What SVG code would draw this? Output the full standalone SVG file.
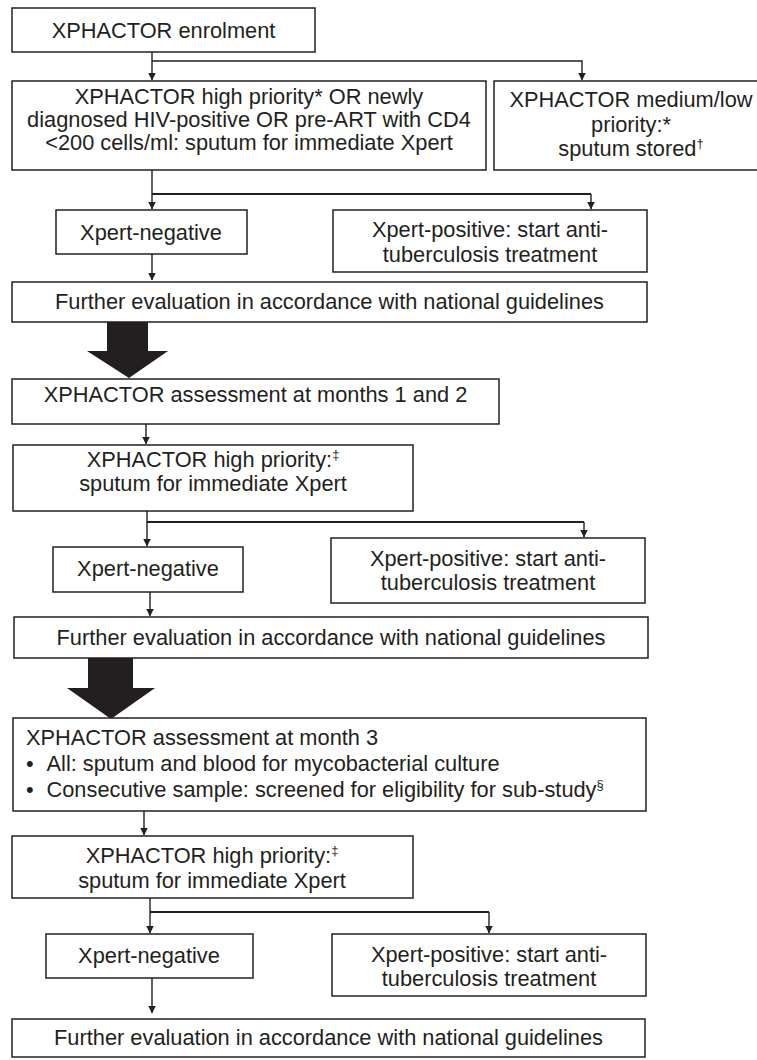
<svg xmlns="http://www.w3.org/2000/svg" width="757" height="1060" viewBox="0 0 757 1060">
<style>
.box{fill:#fff;stroke:#231f20;stroke-width:1.5}
.t{font-family:"Liberation Sans",Arial,sans-serif;font-size:21.8px;fill:#231f20}
.c{text-anchor:middle}
.sup{font-size:13px;fill:#231f20}
.ln{fill:none;stroke:#231f20;stroke-width:1.4}
.hb{fill:none;stroke:#231f20;stroke-width:2}
.big{fill:#231f20}
</style>
<defs>
<marker id="ah" markerWidth="8" markerHeight="9" refX="7.5" refY="4.5" orient="auto" markerUnits="userSpaceOnUse">
<path d="M0,0.5 L8,4.5 L0,8.5 Z" fill="#231f20"/>
</marker>
</defs>
<rect width="757" height="1060" fill="#fff"/>

<g id="connectors">
<path class="ln" d="M152,52 V80" marker-end="url(#ah)"/>
<path class="ln" d="M152,61 H582 V80" marker-end="url(#ah)"/>
<path class="ln" d="M152,170 V209" marker-end="url(#ah)"/>
<path class="hb" d="M152,194 H591"/>
<path class="ln" d="M591,194 V209" marker-end="url(#ah)"/>
<path class="ln" d="M152,254 V280" marker-end="url(#ah)"/>
<path class="ln" d="M146,424 V444" marker-end="url(#ah)"/>
<path class="ln" d="M147,511 V546" marker-end="url(#ah)"/>
<path class="hb" d="M147,522 H584"/>
<path class="ln" d="M584,522 V537" marker-end="url(#ah)"/>
<path class="ln" d="M150,592 V616" marker-end="url(#ah)"/>
<path class="ln" d="M144,811 V835" marker-end="url(#ah)"/>
<path class="ln" d="M150,898 V933" marker-end="url(#ah)"/>
<path class="hb" d="M150,912 H489"/>
<path class="ln" d="M489,912 V933" marker-end="url(#ah)"/>
<path class="ln" d="M152,978 V1013" marker-end="url(#ah)"/>
<path id="bigarrow1" class="big" d="M107,321 H148 V351 H168 L129,378 L87,351 H107 Z"/>
<path id="bigarrow2" class="big" d="M88,657 H133 V688 H155 L111,719 L67,688 H88 Z"/>
</g>

<g id="n-enrol">
<rect class="box" x="12" y="8" width="303" height="44"/>
<text class="t c" x="163.5" y="37.5">XPHACTOR enrolment</text>
</g>

<g id="n-high1">
<rect class="box" x="12" y="81" width="474" height="89"/>
<text class="t c" x="249" y="104">XPHACTOR high priority* OR newly</text>
<text class="t c" x="249" y="127">diagnosed HIV-positive OR pre-ART with CD4</text>
<text class="t c" x="249" y="150">&lt;200 cells/ml: sputum for immediate Xpert</text>
</g>

<g id="n-medlow">
<rect class="box" x="494" y="81" width="280" height="89"/>
<text class="t c" x="631" y="107">XPHACTOR medium/low</text>
<text class="t c" x="631" y="131.5">priority:*</text>
<text class="t c" x="631" y="156">sputum stored<tspan class="sup" dy="-8">†</tspan></text>
</g>

<g id="n-neg1">
<rect class="box" x="56" y="210" width="191" height="44"/>
<text class="t c" x="151" y="239.5">Xpert-negative</text>
</g>

<g id="n-pos1">
<rect class="box" x="333" y="210" width="314" height="62"/>
<text class="t c" x="490" y="237">Xpert-positive: start anti-</text>
<text class="t c" x="490" y="262">tuberculosis treatment</text>
</g>

<g id="n-eval1">
<rect class="box" x="12" y="282" width="635" height="40"/>
<text class="t c" x="329.5" y="308.5">Further evaluation in accordance with national guidelines</text>
</g>

<g id="n-assess12">
<rect class="box" x="12" y="379" width="487" height="45"/>
<text class="t c" x="255.5" y="402">XPHACTOR assessment at months 1 and 2</text>
</g>

<g id="n-high2">
<rect class="box" x="13" y="445" width="400" height="66"/>
<text class="t c" x="213" y="467">XPHACTOR high priority:<tspan class="sup" dy="-8">‡</tspan></text>
<text class="t c" x="213" y="491">sputum for immediate Xpert</text>
</g>

<g id="n-neg2">
<rect class="box" x="53" y="547" width="190" height="45"/>
<text class="t c" x="148" y="576">Xpert-negative</text>
</g>

<g id="n-pos2">
<rect class="box" x="331" y="538" width="314" height="65"/>
<text class="t c" x="488" y="566">Xpert-positive: start anti-</text>
<text class="t c" x="488" y="590">tuberculosis treatment</text>
</g>

<g id="n-eval2">
<rect class="box" x="14" y="617" width="634" height="41"/>
<text class="t c" x="331" y="645">Further evaluation in accordance with national guidelines</text>
</g>

<g id="n-assess3">
<rect class="box" x="13" y="718" width="633" height="93"/>
<text class="t" x="26" y="745">XPHACTOR assessment at month 3</text>
<text class="t" x="26" y="771">•<tspan x="46.5">All: sputum and blood for mycobacterial culture</tspan></text>
<text class="t" x="26" y="797">•<tspan x="46.5">Consecutive sample: screened for eligibility for sub-study</tspan><tspan class="sup" dy="-8">§</tspan></text>
</g>

<g id="n-high3">
<rect class="box" x="12" y="836" width="401" height="62"/>
<text class="t c" x="212" y="863">XPHACTOR high priority:<tspan class="sup" dy="-8">‡</tspan></text>
<text class="t c" x="212" y="888">sputum for immediate Xpert</text>
</g>

<g id="n-neg3">
<rect class="box" x="46" y="934" width="207" height="44"/>
<text class="t c" x="149" y="963">Xpert-negative</text>
</g>

<g id="n-pos3">
<rect class="box" x="332" y="934" width="314" height="62"/>
<text class="t c" x="489" y="962">Xpert-positive: start anti-</text>
<text class="t c" x="489" y="986">tuberculosis treatment</text>
</g>

<g id="n-eval3">
<rect class="box" x="12" y="1019" width="633" height="38"/>
<text class="t c" x="328.5" y="1045">Further evaluation in accordance with national guidelines</text>
</g>
</svg>
